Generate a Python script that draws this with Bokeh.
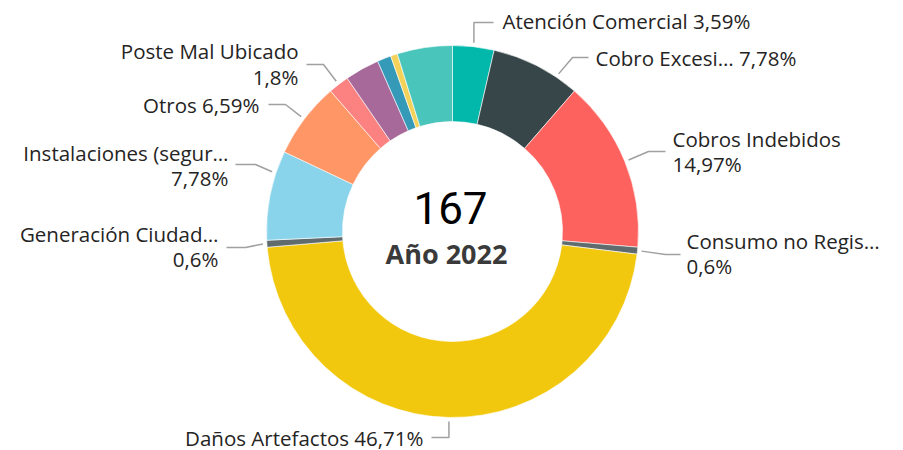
import math
from bokeh.plotting import figure
from bokeh.models import Range1d, ColumnDataSource
from bokeh.core.properties import value
from bokeh.embed import file_html
from bokeh.resources import INLINE

# ---------------- data ----------------
categories = ["Atención Comercial", "Cobro Excesivo", "Cobros Indebidos",
              "Consumo no Registrado", "Daños Artefactos", "Generación Ciudadana",
              "Instalaciones (seguridad)", "Otros", "Poste Mal Ubicado",
              "Otro 1", "Otro 2", "Otro 3", "Otro 4"]
label_names = ["Atención Comercial", "Cobro Excesi…", "Cobros Indebidos",
               "Consumo no Regis…", "Daños Artefactos", "Generación Ciudad…",
               "Instalaciones (segur…", "Otros", "Poste Mal Ubicado",
               None, None, None, None]
counts = [6, 13, 25, 1, 78, 1, 13, 11, 3, 5, 2, 1, 8]
colors = ["#01B8AA", "#374649", "#FD625E", "#5F6B6D", "#F2C80F", "#5F6B6D",
          "#8AD4EB", "#FE9666", "#FB8281", "#A66999", "#3599B8", "#F4D25A", "#4AC5BB"]
center_title = "Año 2022"

# ---------------- layout ----------------
W, H = 895, 450
CX, CY = 452, 231          # screen coords of donut centre
R_OUT, R_IN = 186, 110
FONT = "Open Sans"
LBL_SIZE = "20.5px"
TXT_COL = "#252423"
LINE_COL = "#A0A0A0"

def sx(x):  # screen x -> data x
    return x
def sy(y):  # screen y -> data y
    return 450 - y

# per label: side, text x, text line ys, leader y, knee x (None = vertical from anchor), end x, angle nudge (deg)
lay = {
    0: dict(side="L", tx=502, ty=[20], ly=22, kx=None, ex=493, nudge=0, one=True),
    1: dict(side="L", tx=595, ty=[57], ly=57, kx=572, ex=588, nudge=7, one=True),
    2: dict(side="L", tx=672, ty=[138, 163], ly=151, kx=648, ex=665, nudge=0, one=False),
    3: dict(side="L", tx=686, ty=[240, 265], ly=254, kx=665, ex=680, nudge=0, one=False),
    4: dict(side="R", tx=423, ty=[437], ly=437, kx=None, ex=431, nudge=0, one=True),
    5: dict(side="R", tx=218, ty=[233, 258], ly=247, kx=245, ex=226, nudge=0, one=False),
    6: dict(side="R", tx=228, ty=[152, 177], ly=164, kx=255, ex=235, nudge=7, one=False),
    7: dict(side="R", tx=259, ty=[104], ly=104, kx=285, ex=268, nudge=0, one=True),
    8: dict(side="R", tx=298, ty=[50, 76], ly=64, kx=323, ex=306, nudge=0, one=False),
}

total = sum(counts)
fracs = [c / total for c in counts]

def fmt_pct(f):
    s = f"{f * 100:.2f}".rstrip("0").rstrip(".")
    return s.replace(".", ",") + "%"

starts, ends, mids = [], [], []
acc = 0.0
for f in fracs:
    starts.append(math.pi / 2 - acc * 2 * math.pi)
    mids.append(acc + f / 2)
    acc += f
    ends.append(math.pi / 2 - acc * 2 * math.pi)

p = figure(width=W, height=H, output_backend="svg", toolbar_location=None,
           x_range=Range1d(0, W), y_range=Range1d(450 - H, 450),
           x_axis_type=None, y_axis_type=None, min_border=0)
p.outline_line_color = None
p.grid.visible = False
p.background_fill_color = "white"
p.border_fill_color = "white"

src = ColumnDataSource(dict(start=starts, end=ends, color=colors,
                            x=[sx(CX)] * len(counts), y=[sy(CY)] * len(counts)))
p.annular_wedge(x="x", y="y", inner_radius=R_IN, outer_radius=R_OUT,
                start_angle="start", end_angle="end", direction="clock",
                fill_color="color", line_color="white", line_width=0.6,
                source=src)

# labels + leader lines
tx_l, ty_l, tt_l, al_l = [], [], [], []
xs_lines, ys_lines = [], []
R_ANCH = 190
for i, spec in lay.items():
    ang = (mids[i] * 360 + spec["nudge"]) * math.pi / 180
    ax = CX + R_ANCH * math.sin(ang)
    ay = CY - R_ANCH * math.cos(ang)
    kx = ax if spec["kx"] is None else spec["kx"]
    ky = spec["ly"]
    xs_lines.append([sx(ax), sx(kx), sx(spec["ex"])])
    ys_lines.append([sy(ay), sy(ky), sy(ky)])
    pct = fmt_pct(fracs[i])
    if spec["one"]:
        lines = [f"{label_names[i]} {pct}"]
    else:
        lines = [label_names[i], pct]
    for t, yy in zip(lines, spec["ty"]):
        tx_l.append(sx(spec["tx"]))
        ty_l.append(sy(yy))
        tt_l.append(t)
        al_l.append("left" if spec["side"] == "L" else "right")

p.multi_line(xs=xs_lines, ys=ys_lines, line_color=LINE_COL, line_width=1.5)
p.text(x=tx_l, y=ty_l, text=tt_l, text_align=al_l, text_baseline="middle",
       text_font=value(FONT), text_font_size=LBL_SIZE, text_color=TXT_COL)

# centre texts
p.text(x=[sx(CX - 2)], y=[sy(207)], text=[str(total)], text_align="center",
       text_baseline="middle", text_font=value("Roboto"), text_font_size="44px",
       text_color="#000000")
p.text(x=[sx(CX - 6)], y=[sy(253)], text=[center_title], text_align="center",
       text_baseline="middle", text_font=value(FONT), text_font_size="27px",
       text_font_style="bold", text_color="#3a3a3a")

open("out.html", "w").write(file_html(p, INLINE))
